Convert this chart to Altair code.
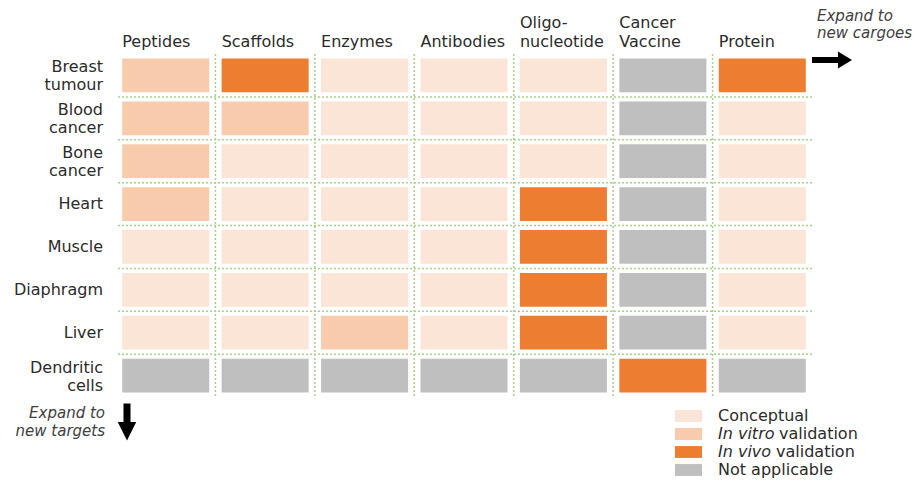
import altair as alt
import pandas as pd

# ---- data ----
columns = ["Peptides", "Scaffolds", "Enzymes", "Antibodies",
           "Oligo-\nnucleotide", "Cancer\nVaccine", "Protein"]
rows = ["Breast\ntumour", "Blood\ncancer", "Bone\ncancer", "Heart",
        "Muscle", "Diaphragm", "Liver", "Dendritic\ncells"]
status_keys = ["Conceptual", "In vitro validation", "In vivo validation", "Not applicable"]
status_colors = ["#FBE5D6", "#F8CBAD", "#ED7D31", "#BFBFBF"]

# C = conceptual, V = in vitro, I = in vivo, N = not applicable
matrix = [
    ["V", "I", "C", "C", "C", "N", "I"],  # Breast tumour
    ["V", "V", "C", "C", "C", "N", "C"],  # Blood cancer
    ["V", "C", "C", "C", "C", "N", "C"],  # Bone cancer
    ["V", "C", "C", "C", "I", "N", "C"],  # Heart
    ["C", "C", "C", "C", "I", "N", "C"],  # Muscle
    ["C", "C", "C", "C", "I", "N", "C"],  # Diaphragm
    ["C", "C", "V", "C", "I", "N", "C"],  # Liver
    ["N", "N", "N", "N", "N", "I", "N"],  # Dendritic cells
]
code_map = {"C": status_keys[0], "V": status_keys[1], "I": status_keys[2], "N": status_keys[3]}

legend_italic = ["", "In vitro", "In vivo", ""]
legend_plain = ["Conceptual", "validation", "validation", "Not applicable"]

# ---- layout / style ----
W, H = 696, 343
FONT = "DejaVu Sans"
TXT = "#2b2b2b"
GRID = "#A9D18E"
PI_X, PO_X = 0.125, 0.0625
PI_Y, PO_Y = 0.21, 0.105
step_x = W / (len(columns) - PI_X + 2 * PO_X)
step_y = H / (len(rows) - PI_Y + 2 * PO_Y)
NB = "\u00a0"

cells = pd.DataFrame([
    {"row": r, "col": c, "status": code_map[matrix[i][j]]}
    for i, r in enumerate(rows) for j, c in enumerate(columns)
])

xscale = alt.Scale(domain=columns, paddingInner=PI_X, paddingOuter=PO_X)
yscale = alt.Scale(domain=rows, paddingInner=PI_Y, paddingOuter=PO_Y)

# top labels: every label becomes two lines (blank first line for one-line labels)
xaxis = alt.Axis(orient="top", title=None, ticks=False, domain=False, grid=False,
                 labelAlign="left", labelBaseline="alphabetic",
                 labelOffset=-(step_x * (1 - PI_X)) / 2,
                 labelPadding=27, labelFont=FONT, labelFontSize=16, labelColor=TXT,
                 labelLineHeight=19, labelOverlap=False, labelFlush=False, labelAngle=0,
                 labelExpr="length(split(datum.label, '\\n')) > 1 ? split(datum.label, '\\n') : ['" + NB + "', datum.label]")

color = alt.Color("status:N", scale=alt.Scale(domain=status_keys, range=status_colors), legend=None)

rects = alt.Chart(cells).mark_rect().encode(
    x=alt.X("col:N", scale=xscale, axis=xaxis, sort=columns),
    y=alt.Y("row:N", scale=yscale, axis=None, sort=rows),
    color=color,
)

vrules = alt.Chart(pd.DataFrame({"col": columns[1:]})).mark_rule(
    color=GRID, strokeDash=[2, 2], strokeWidth=1.5, xOffset=-step_x * PI_X / 2
).encode(x=alt.X("col:N", scale=xscale, axis=xaxis, sort=columns, bandPosition=0))

hrules = alt.Chart(pd.DataFrame({"row": rows[1:]})).mark_rule(
    color=GRID, strokeDash=[2, 2], strokeWidth=1.5, yOffset=-step_y * PI_Y / 2
).encode(y=alt.Y("row:N", scale=yscale, axis=None, sort=rows, bandPosition=0))

# row labels as text marks (two-line labels shifted up by half a line)
row_df = pd.DataFrame({"row": rows})
row_base = alt.Chart(row_df).transform_calculate(
    lines="split(datum.row, '\\n')", n="length(split(datum.row, '\\n'))"
)
row_two = row_base.transform_filter("datum.n > 1").mark_text(
    align="right", baseline="middle", font=FONT, fontSize=16, color=TXT, lineHeight=18, dy=-8
).encode(x=alt.value(-13), y=alt.Y("row:N", scale=yscale, axis=None, sort=rows), text="lines:N")
row_one = row_base.transform_filter("datum.n == 1").mark_text(
    align="right", baseline="middle", font=FONT, fontSize=16, color=TXT
).encode(x=alt.value(-13), y=alt.Y("row:N", scale=yscale, axis=None, sort=rows), text="row:N")

one = pd.DataFrame({"k": [0]})
arrow_right = alt.Chart(one).mark_point(
    shape="M-1,-0.15L0.3,-0.15L0.3,-0.42L1,0L0.3,0.42L0.3,0.15L-1,0.15Z",
    filled=True, color="black", opacity=1, size=1600, strokeWidth=0
).encode(x=alt.value(716), y=alt.value(6))

arrow_down = alt.Chart(one).mark_point(
    shape="M-0.19,-1L0.19,-1L0.19,0L0.5,0L0,1L-0.5,0L-0.19,0Z",
    filled=True, color="black", opacity=1, size=1369, strokeWidth=0
).encode(x=alt.value(11), y=alt.value(368))

expand_cargo = alt.Chart(one).mark_text(
    align="left", baseline="top", font=FONT, fontStyle="italic", fontSize=15,
    lineHeight=17, color="#404040"
).encode(x=alt.value(701), y=alt.value(-45), text=alt.value(["Expand to", "new cargoes"]))

expand_target = alt.Chart(one).mark_text(
    align="right", baseline="top", font=FONT, fontStyle="italic", fontSize=15,
    lineHeight=18, color="#404040"
).encode(x=alt.value(-11), y=alt.value(352), text=alt.value(["Expand to", "new targets"]))

main = alt.layer(vrules, hrules, rects, row_two, row_one,
                 arrow_right, arrow_down, expand_cargo, expand_target)

leg_df = pd.DataFrame({"status": status_keys, "italic": legend_italic, "plain": legend_plain})
ly = alt.Y("status:N", scale=alt.Scale(type="point", domain=status_keys, range=[362, 416], padding=0),
           axis=None)

leg_sym = alt.Chart(leg_df).mark_point(
    shape="M-1,-0.44H1V0.44H-1Z", filled=True, opacity=1, size=729, strokeWidth=0
).encode(x=alt.value(572.5), y=ly, color=color)

leg_reg = alt.Chart(leg_df).transform_filter("datum.italic == ''").mark_text(
    align="left", baseline="middle", font=FONT, fontSize=16, color=TXT
).encode(x=alt.value(602), y=ly, text="plain:N")

leg_it = alt.Chart(leg_df).transform_filter("datum.italic != ''").mark_text(
    align="left", baseline="middle", font=FONT, fontStyle="italic", fontSize=16, color=TXT
).encode(x=alt.value(602), y=ly, text="italic:N")

leg_v1 = alt.Chart(leg_df).transform_filter("datum.italic == 'In vitro'").mark_text(
    align="left", baseline="middle", font=FONT, fontSize=16, color=TXT, dx=61
).encode(x=alt.value(602), y=ly, text="plain:N")

leg_v2 = alt.Chart(leg_df).transform_filter("datum.italic == 'In vivo'").mark_text(
    align="left", baseline="middle", font=FONT, fontSize=16, color=TXT, dx=58
).encode(x=alt.value(602), y=ly, text="plain:N")

legend = alt.layer(leg_sym, leg_reg, leg_it, leg_v1, leg_v2)

chart = alt.layer(main, legend).resolve_scale(y="independent").properties(
    width=W, height=H,
    padding={"left": 108, "top": 46, "right": 103, "bottom": 82},
    autosize=alt.AutoSizeParams(type="none"),
    background="white",
).configure_view(stroke=None)

chart.save("out.html", embed_options={"renderer": "svg", "actions": False})
